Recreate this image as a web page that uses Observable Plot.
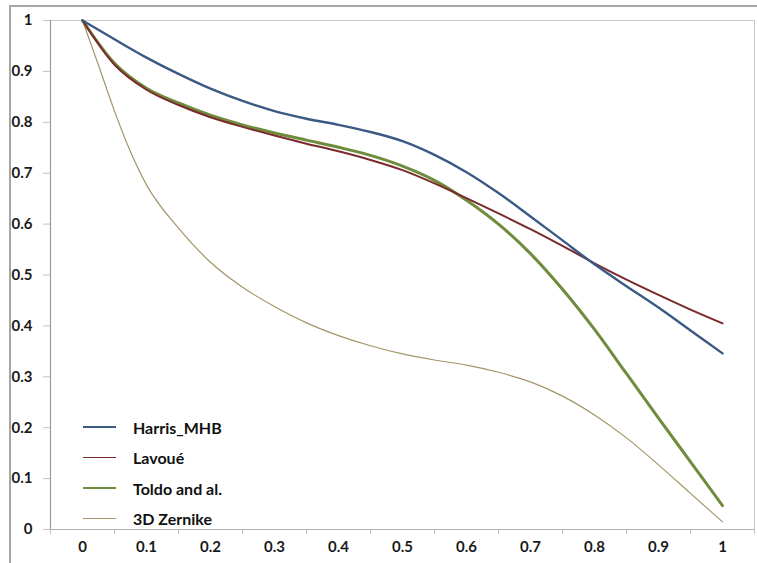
<!DOCTYPE html>
<html>
<head>
<meta charset="utf-8">
<script src="https://cdn.jsdelivr.net/npm/d3@7"></script>
<script src="https://cdn.jsdelivr.net/npm/@observablehq/plot@0.6"></script>
<style>
  html, body { margin: 0; padding: 0; background: #fff; }
  #wrap { position: relative; width: 757px; height: 563px; overflow: hidden; }
  #outer { position: absolute; left: 9px; top: 5px; right: -10px; bottom: -10px;
           border-top: 2px solid #a6a6a6; border-left: 2px solid #a6a6a6; }
  #chart { position: absolute; left: 0; top: 0; }
  #legend { position: absolute; left: 83px; top: 412px; font-family: Lato, "Open Sans", sans-serif;
            font-weight: bold; font-size: 16px; color: #111; }
  .item { display: flex; align-items: center; height: 30.5px; }
  .swatch { width: 33px; margin-right: 17px; }
</style>
</head>
<body>
<div id="wrap">
  <div id="outer"></div>
  <div id="chart"></div>
  <div id="legend"></div>
</div>
<script>
// Shared x positions (recall levels)
const xs = [0, 0.05, 0.1, 0.15, 0.2, 0.25, 0.3, 0.35, 0.4, 0.45, 0.5, 0.55, 0.6, 0.65, 0.7, 0.75, 0.8, 0.85, 0.9, 0.95, 1.0];
const harris = [1.0, 0.963, 0.927, 0.895, 0.866, 0.842, 0.822, 0.807, 0.795, 0.781, 0.763, 0.736, 0.702, 0.661, 0.615, 0.568, 0.521, 0.478, 0.436, 0.391, 0.346];
const lavoue = [1.0, 0.913, 0.864, 0.834, 0.810, 0.791, 0.774, 0.758, 0.743, 0.726, 0.706, 0.680, 0.651, 0.621, 0.590, 0.557, 0.523, 0.491, 0.461, 0.432, 0.405];
const toldo = [1.0, 0.916, 0.867, 0.838, 0.814, 0.795, 0.779, 0.765, 0.751, 0.735, 0.714, 0.686, 0.647, 0.600, 0.542, 0.472, 0.393, 0.306, 0.219, 0.133, 0.047];
// 3D Zernike drops fast at start: extra samples there
const zernikeX = [0, 0.025, 0.05, 0.075, 0.1, 0.15, 0.2, 0.25, 0.3, 0.35, 0.4, 0.45, 0.5, 0.55, 0.6, 0.65, 0.7, 0.75, 0.8, 0.85, 0.9, 0.95, 1.0];
const zernike = [1.0, 0.912, 0.822, 0.742, 0.677, 0.592, 0.525, 0.476, 0.438, 0.406, 0.381, 0.361, 0.345, 0.333, 0.323, 0.309, 0.290, 0.262, 0.225, 0.180, 0.127, 0.071, 0.015];

const seriesNames = ["Harris_MHB", "Lavoué", "Toldo and al.", "3D Zernike"];
const seriesColors = ["#3a5a84", "#7a2a2c", "#6f8b3c", "#a49568"];
const seriesWidths = [2.4, 2.0, 3.0, 1.2];

const xTickLabels = [0, 0.1, 0.2, 0.3, 0.4, 0.5, 0.6, 0.7, 0.8, 0.9, 1];
const xTickMarks = [-0.05, 0.05, 0.15, 0.25, 0.35, 0.45, 0.55, 0.65, 0.75, 0.85, 0.95, 1.05];
const yTicks = [0, 0.1, 0.2, 0.3, 0.4, 0.5, 0.6, 0.7, 0.8, 0.9, 1];

const rows = [];
[harris, lavoue, toldo].forEach((arr, i) => arr.forEach((v, j) => rows.push({series: seriesNames[i], x: xs[j], y: v})));
zernike.forEach((v, j) => rows.push({series: seriesNames[3], x: zernikeX[j], y: v}));

const font = "Lato, 'Open Sans', sans-serif";
const plot = Plot.plot({
  width: 757,
  height: 563,
  marginLeft: 50,
  marginRight: 3,
  marginTop: 20,
  marginBottom: 34,
  style: {fontFamily: font, fontSize: "15px", fontWeight: "bold", color: "#1a1a1a", background: "transparent"},
  x: {domain: [-0.05, 1.05]},
  y: {domain: [0, 1]},
  marks: [
    Plot.frame({stroke: "#c8c8c8", strokeWidth: 1}),
    Plot.ruleX([-0.05], {stroke: "#9a9a9a", strokeWidth: 1.2}),
    Plot.ruleY([0], {stroke: "#b0b0b0", strokeWidth: 1.2}),
    Plot.axisY({ticks: yTicks, tickFormat: d => String(d), tickSize: 7, tickPadding: 11, stroke: "#c0c0c0", fill: "#1a1a1a", label: null}),
    Plot.axisX({ticks: xTickMarks, tickFormat: () => "", tickSize: 5, stroke: "#c0c0c0", label: null}),
    Plot.axisX({ticks: xTickLabels, tickFormat: d => String(d), tickSize: 0, tickPadding: 12, fill: "#1a1a1a", label: null}),
    ...seriesNames.slice().reverse().map((name) => {
      const i = seriesNames.indexOf(name);
      return Plot.line(rows.filter(r => r.series === name), {
        x: "x", y: "y", stroke: seriesColors[i], strokeWidth: seriesWidths[i], curve: "monotone-x"
      });
    })
  ]
});
document.getElementById("chart").appendChild(plot);

const legend = document.getElementById("legend");
seriesNames.forEach((name, i) => {
  const item = document.createElement("div");
  item.className = "item";
  const sw = document.createElement("div");
  sw.className = "swatch";
  sw.style.borderTop = `${Math.max(1.5, seriesWidths[i] - 0.4)}px solid ${seriesColors[i]}`;
  const t = document.createElement("span");
  t.textContent = name;
  item.appendChild(sw); item.appendChild(t);
  legend.appendChild(item);
});
</script>
</body>
</html>
